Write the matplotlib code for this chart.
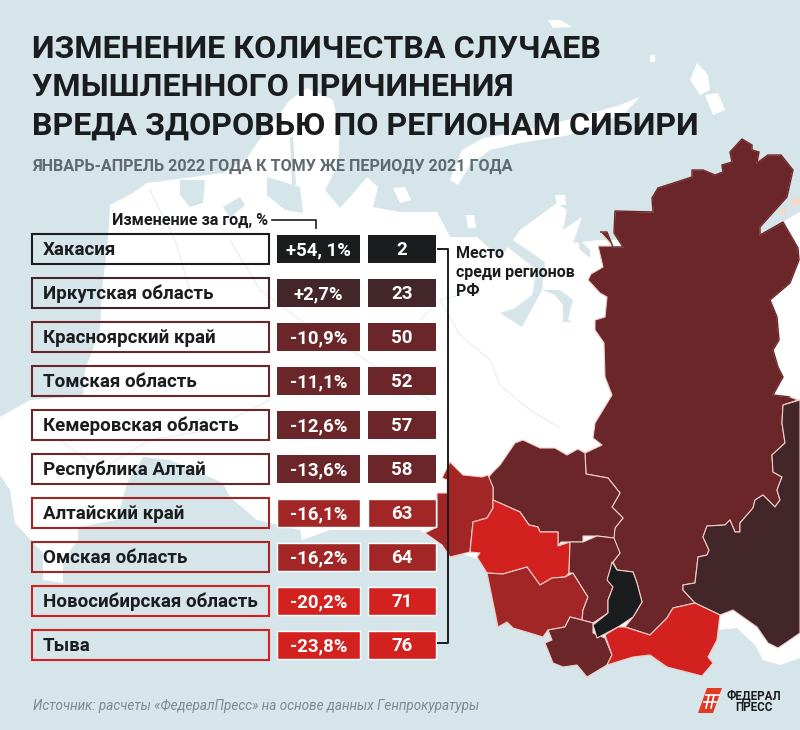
import matplotlib
matplotlib.use('agg')
import matplotlib.pyplot as plt
from matplotlib.patches import Polygon, Rectangle

plt.rcParams['font.family'] = ['Roboto', 'DejaVu Sans']

# table data
regions = ['Хакасия', 'Иркутская область', 'Красноярский край', 'Томская область',
           'Кемеровская область', 'Республика Алтай', 'Алтайский край', 'Омская область',
           'Новосибирская область', 'Тыва']
changes = ['+54, 1%', '+2,7%', '-10,9%', '-11,1%', '-12,6%', '-13,6%', '-16,1%', '-16,2%', '-20,2%', '-23,8%']
ranks = ['2', '23', '50', '52', '57', '58', '63', '64', '71', '76']
row_colors = ['#1a1c1e', '#42262a', '#6b2629', '#6b2629', '#6b2629', '#6b2629',
              '#a32626', '#a32626', '#d3211f', '#d3211f']

title_lines = ['ИЗМЕНЕНИЕ КОЛИЧЕСТВА СЛУЧАЕВ', 'УМЫШЛЕННОГО ПРИЧИНЕНИЯ', 'ВРЕДА ЗДОРОВЬЮ ПО РЕГИОНАМ СИБИРИ']
subtitle = 'ЯНВАРЬ-АПРЕЛЬ 2022 ГОДА К ТОМУ ЖЕ ПЕРИОДУ 2021 ГОДА'
source = 'Источник: расчеты «ФедералПресс» на основе данных Генпрокуратуры'

# map outlines, in picture pixels
land = [(0, 417), (30, 400), (83, 396), (85, 370), (100, 330), (102, 290), (108, 240), (110, 205), (133, 193),
        (147, 183), (170, 180), (223, 173), (247, 158), (257, 143), (290, 100), (307, 88), (333, 100), (340, 130),
        (338, 165), (325, 190), (340, 208), (350, 197), (367, 177), (378, 187), (373, 207), (400, 212), (437, 212),
        (450, 237), (477, 237), (500, 258), (520, 230), (557, 203), (567, 210), (563, 230), (582, 217), (573, 243),
        (600, 240), (700, 240), (770, 232), (783, 222), (800, 212), (800, 658), (780, 665), (763, 660), (755, 645),
        (737, 628), (717, 630), (600, 640), (480, 560), (443, 547), (420, 530), (330, 530), (302, 540), (300, 530),
        (257, 520), (230, 497), (223, 483), (200, 473), (170, 460), (143, 457), (127, 483), (117, 520), (78, 527),
        (78, 540), (63, 560), (63, 583), (43, 580), (43, 553), (15, 523), (10, 490), (0, 475)]
water_holes = [
    [(180, 180), (205, 180), (203, 203), (190, 207), (180, 195)],
    [(223, 207), (240, 197), (245, 205), (230, 218)],
    [(267, 177), (300, 187), (303, 213), (285, 210), (267, 195)],
    [(290, 137), (293, 137), (296, 185), (292, 185)],
    [(505, 245), (513, 240), (545, 262), (542, 290), (522, 327), (500, 313), (515, 308), (532, 295), (537, 270)],
    [(560, 290), (573, 300), (568, 320), (573, 322), (563, 322), (563, 305), (555, 295), (542, 290)],
    [(577, 237), (590, 250), (590, 258), (580, 250)],
]
islands = [
    [(450, 180), (462, 150), (483, 138), (527, 130), (567, 120), (620, 105), (640, 97), (625, 113), (570, 135),
     (520, 143), (490, 150), (470, 165), (458, 185)],
    [(690, 80), (697, 63), (708, 75), (710, 90), (700, 95)],
    [(705, 95), (718, 93), (725, 110), (713, 115)],
    [(548, 20), (560, 20), (572, 27), (553, 28)],
    [(393, 188), (405, 187), (411, 200), (400, 203)],
    [(466, 215), (474, 215), (476, 228), (468, 228)],
    [(555, 195), (565, 195), (566, 205), (557, 205)],
    [(650, 55), (655, 55), (655, 62), (650, 62)],
]
faint_lines = [
    [(440, 300), (460, 335), (490, 360), (500, 385), (530, 410), (560, 428)],
    [(420, 320), (440, 300), (480, 290)],
    [(60, 440), (100, 470), (150, 440), (210, 430), (270, 400)],
    [(230, 240), (260, 290), (300, 320), (350, 350), (430, 400)],
    [(150, 190), (175, 240), (190, 290)],
]

krasnoyarsk = [(600, 232), (607, 232), (613, 247), (623, 247), (614, 233), (615, 211), (653, 212), (652, 198),
               (658, 188), (692, 177), (692, 170), (703, 170), (715, 175), (723, 172), (722, 165), (732, 162),
               (730, 152), (742, 139), (752, 145), (752, 150), (759, 152), (757, 163), (768, 155), (781, 155),
               (793, 170), (787, 197), (760, 227), (760, 235), (783, 222), (798, 248), (799, 260), (790, 283),
               (770, 300), (777, 317), (779, 340), (773, 350), (778, 367), (783, 377), (773, 395), (790, 397),
               (798, 400), (783, 405), (782, 423), (785, 443), (772, 455), (773, 472), (782, 477), (777, 490),
               (780, 500), (775, 507), (763, 495), (755, 500), (753, 508), (740, 523), (740, 532), (735, 532),
               (730, 520), (725, 525), (707, 526), (703, 537), (709, 550), (707, 555), (698, 557), (695, 583),
               (683, 585), (683, 590), (695, 603), (673, 608), (667, 618), (650, 635), (625, 627), (633, 617),
               (642, 602), (637, 583), (633, 572), (617, 570), (613, 562), (620, 553), (613, 540), (615, 528),
               (623, 518), (612, 507), (620, 493), (608, 478), (586, 474), (585, 453), (602, 445), (593, 438),
               (595, 423), (612, 395), (605, 377), (604, 343), (595, 330), (595, 320), (605, 317), (607, 297),
               (600, 293), (588, 280), (591, 274), (603, 267), (598, 246), (613, 246)]
irkutsk = [(800, 400), (783, 405), (782, 423), (785, 443), (772, 455), (773, 472), (782, 477), (777, 490),
           (780, 500), (775, 507), (763, 495), (755, 500), (753, 508), (740, 523), (740, 532), (735, 532),
           (730, 520), (725, 525), (707, 526), (703, 537), (709, 550), (707, 555), (698, 557), (695, 583),
           (683, 585), (683, 590), (695, 603), (720, 615), (733, 610), (757, 627), (768, 643), (778, 648),
           (787, 642), (800, 633)]
tomsk = [(492, 473), (500, 465), (515, 443), (523, 440), (540, 448), (555, 448), (567, 455), (578, 449),
         (585, 453), (586, 474), (608, 478), (620, 493), (612, 507), (623, 518), (615, 528), (614, 538), (597, 536),
         (583, 536), (583, 542), (570, 542), (561, 542), (558, 546), (558, 532), (540, 532), (538, 527), (529, 525),
         (520, 512), (493, 500), (493, 487), (488, 478)]
novosibirsk = [(493, 500), (520, 512), (529, 525), (538, 527), (540, 532), (558, 532), (558, 546), (570, 542),
               (569, 573), (565, 577), (552, 578), (540, 585), (527, 567), (503, 574), (487, 573), (477, 557),
               (480, 553), (470, 552), (473, 522), (487, 518), (493, 508)]
omsk = [(450, 462), (455, 467), (463, 475), (482, 477), (488, 475), (493, 487), (493, 508), (487, 518), (473, 522),
        (470, 552), (450, 557), (442, 545), (425, 533), (437, 527), (437, 493), (447, 493), (447, 480), (442, 478)]
altai_krai = [(487, 573), (503, 574), (527, 567), (540, 585), (552, 578), (565, 577), (573, 573), (588, 597),
              (583, 610), (582, 620), (570, 617), (565, 627), (548, 630), (543, 637), (513, 628), (507, 622),
              (498, 627)]
kemerovo = [(570, 542), (583, 542), (597, 536), (614, 538), (620, 553), (613, 562), (608, 577), (613, 587),
            (608, 600), (608, 613), (593, 623), (582, 620), (583, 610), (588, 597), (573, 573), (569, 573)]
altai_rep = [(548, 630), (565, 627), (570, 617), (582, 620), (593, 623), (593, 633), (605, 638), (612, 655),
             (607, 665), (587, 677), (577, 665), (563, 667), (553, 663), (545, 643), (552, 640)]
khakasia = [(612, 562), (617, 570), (633, 572), (637, 583), (642, 602), (633, 617), (618, 627), (597, 638),
            (593, 625), (608, 613), (608, 600), (613, 587), (607, 580), (610, 570)]
tyva = [(605, 635), (618, 627), (625, 627), (650, 635), (667, 618), (673, 608), (695, 603), (720, 615), (717, 640),
        (708, 657), (713, 663), (702, 676), (667, 667), (650, 655), (633, 657), (607, 665), (612, 655)]

map_regions = [(krasnoyarsk, '#6b2629'), (irkutsk, '#42262a'), (tomsk, '#6b2629'), (omsk, '#a32626'),
               (novosibirsk, '#d3211f'), (altai_krai, '#a32626'), (kemerovo, '#6b2629'),
               (altai_rep, '#6b2629'), (khakasia, '#1a1c1e'), (tyva, '#d3211f')]

fig = plt.figure(figsize=(8, 7.3), dpi=100, facecolor='#d6e5ea')
ax = fig.add_axes([0, 0, 1, 1])
ax.set_xlim(0, 800)
ax.set_ylim(730, 0)
ax.axis('off')

# background map
ax.add_patch(Polygon(land, facecolor='white', edgecolor='none', zorder=1))
for hole in water_holes:
    ax.add_patch(Polygon(hole, facecolor='#d6e5ea', edgecolor='none', zorder=2))
for isl in islands:
    ax.add_patch(Polygon(isl, facecolor='white', edgecolor='none', zorder=2))
for line in faint_lines:
    ax.plot([p[0] for p in line], [p[1] for p in line], color='#e6edf0', lw=0.8, zorder=2)
ax.scatter([795, 783], [202, 212], s=[40, 22], color='#f5d8c8', linewidths=0, zorder=2)

# regions
for outline, color in map_regions:
    ax.add_patch(Polygon(outline, facecolor=color, edgecolor='#f0cfc9', lw=0.8, joinstyle='round', zorder=3))
ax.add_patch(Polygon(krasnoyarsk[:40], closed=False, fill=False, edgecolor='#6b2629', lw=1, zorder=3))

# title
for i, line in enumerate(title_lines):
    ax.text(32, 49 + i * 38.5, line, fontsize=23.2, fontweight='bold', color='#1a1c1e', va='center', zorder=6)
ax.text(32, 166, subtitle, fontsize=11.6, fontweight='bold', color='#5f6a6e', va='center', zorder=6)

# table
for i, region in enumerate(regions):
    y = 249 + i * 44
    color = row_colors[i]
    ax.add_patch(Rectangle((32, y - 15), 237, 30, facecolor='none', edgecolor=color, lw=1.5, zorder=4))
    ax.text(43, y + 1, region, fontsize=13.5, fontweight='bold', color='#1a1c1e', va='center', zorder=6)
    edge = 'white' if i >= 6 else 'none'
    ax.add_patch(Rectangle((277, y - 14), 83, 28, facecolor=color, edgecolor=edge, lw=1, zorder=4))
    ax.add_patch(Rectangle((368, y - 14), 68, 28, facecolor=color, edgecolor=edge, lw=1, zorder=4))
    ax.text(318.5, y + 1, changes[i], fontsize=13.3, fontweight='bold', color='white', ha='center', va='center', zorder=6)
    ax.text(402, y + 1, ranks[i], fontsize=13.5, fontweight='bold', color='white', ha='center', va='center', zorder=6)

# annotations
ax.text(112, 220, 'Изменение за год, %', fontsize=11.6, fontweight='bold', color='#1a1c1e', va='center', zorder=6)
ax.plot([272, 316, 316], [220, 220, 228], color='#1a1c1e', lw=1.2, zorder=5)
ax.plot([438, 448, 448, 438], [249, 249, 643, 643], color='#1a1c1e', lw=1.4, zorder=5)
for y, line in zip([253, 272, 291], ['Место', 'среди регионов', 'РФ']):
    ax.text(456, y, line, fontsize=11.5, fontweight='bold', color='#1a1c1e', va='center', zorder=6)

ax.text(33, 706, source, fontsize=9.75, style='italic', color='#7f8a8e', va='center', zorder=6)

# logo
ax.add_patch(Polygon([(707, 688), (722, 688), (713, 713), (698, 713)], facecolor='#e03a25', edgecolor='none', zorder=5))
ax.plot([706, 719], [695, 695], color='white', lw=1.2, zorder=6)
ax.plot([704, 716], [702, 702], color='white', lw=1.2, zorder=6)
ax.plot([709, 706], [695, 708], color='white', lw=1.2, zorder=6)
ax.plot([714, 711], [695, 708], color='white', lw=1.2, zorder=6)
ax.text(753.5, 696, 'ФЕДЕРАЛ', fontsize=8.4, fontweight='bold', color='#1a1c1e', ha='center', va='center', zorder=6)
ax.text(753.5, 707.5, 'ПРЕСС', fontsize=8.4, fontweight='bold', color='#1a1c1e', ha='center', va='center', zorder=6)

fig.savefig('out.png', dpi=100, facecolor=fig.get_facecolor())
plt.close(fig)
